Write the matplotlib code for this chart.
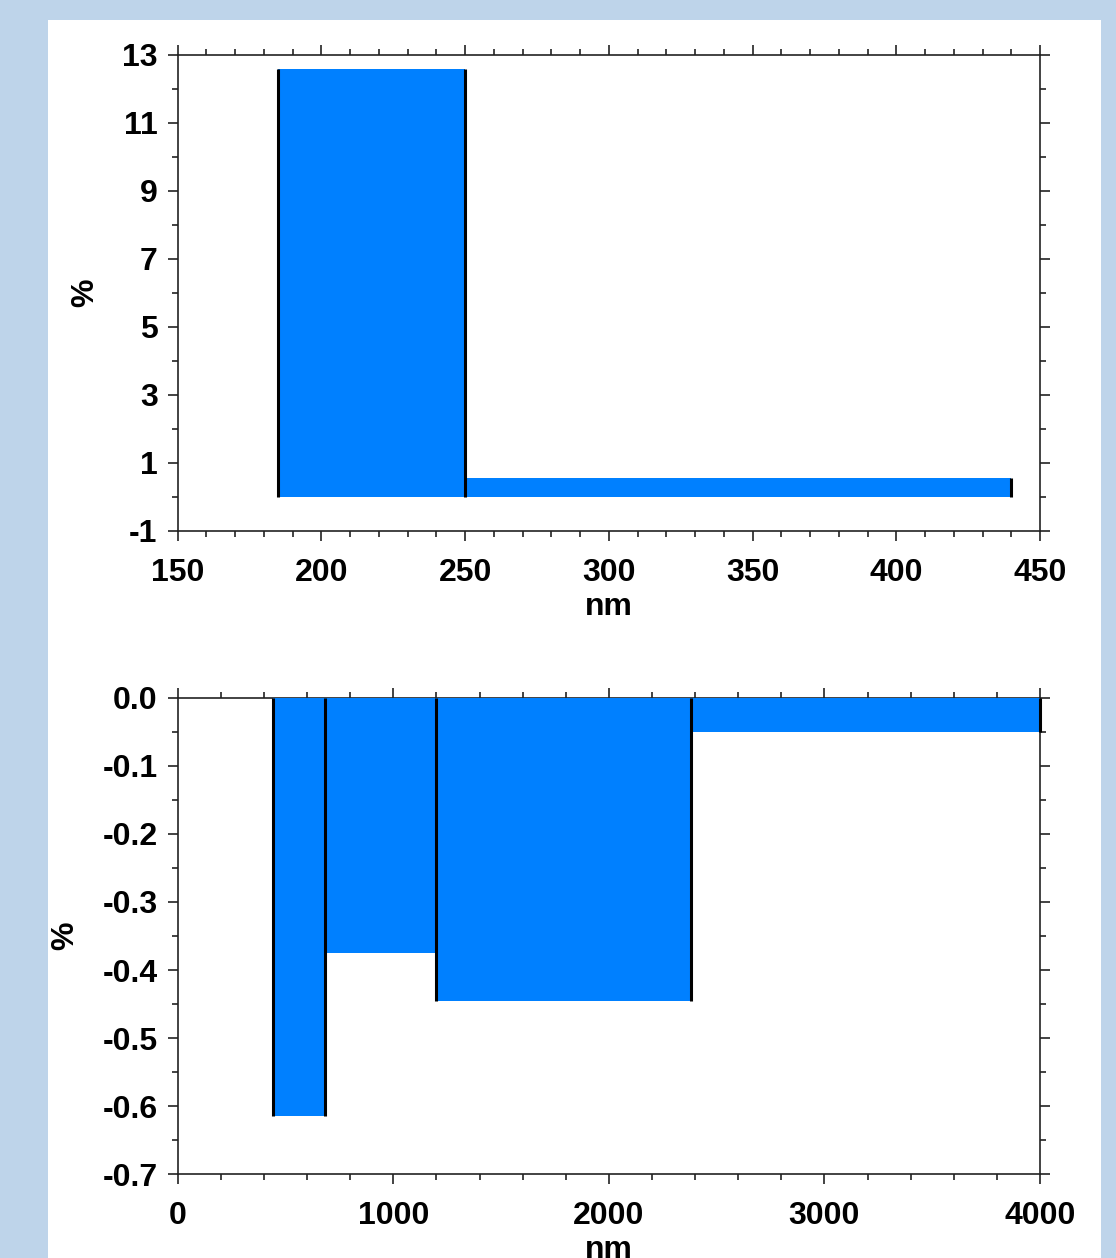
import matplotlib
matplotlib.use("Agg")
import matplotlib.pyplot as plt
from matplotlib.patches import Rectangle
from matplotlib.ticker import MultipleLocator
import numpy as np

# ---- data ----
top_edges = [185, 250, 440]          # nm, bin edges
top_values = [12.6, 0.55]            # %
bot_edges = [440, 685, 1200, 2380, 4000]
bot_values = [-0.615, -0.375, -0.445, -0.05]

top_xlim = (150, 450)
top_ylim = (-1, 13)
top_yticks = [-1, 1, 3, 5, 7, 9, 11, 13]
bot_xlim = (0, 4000)
bot_ylim = (-0.7, 0.0)
bot_yticks = [-0.7, -0.6, -0.5, -0.4, -0.3, -0.2, -0.1, 0.0]

BAR = "#0080ff"
BG = "#bed4ea"
FONT = "Liberation Sans"
FS = 23

W, H = 1116, 1258
fig = plt.figure(figsize=(W / 100, H / 100), dpi=100)
fig.patch.set_facecolor(BG)
fig.patches.append(Rectangle((48 / W, 0), (1101 - 48) / W, (H - 20) / H,
                             transform=fig.transFigure, facecolor="white",
                             edgecolor="none", zorder=-5))
fig.text(166 / W, 1 + 14 / H, "g", fontsize=44, fontfamily=FONT,
         ha="center", va="baseline", color="black", zorder=-4)


def draw(ax, edges, values, xlim, ylim, yticks, xmaj, xmin, ymin_loc, yfmt):
    edges = np.asarray(edges, float)
    values = np.asarray(values, float)
    widths = np.diff(edges)
    ax.bar(edges[:-1], values, width=widths, align="edge", color=BAR,
           linewidth=0, zorder=3)
    # vertical black edge lines at each bin boundary
    padded = np.concatenate([[0.0], values, [0.0]])
    ext = []
    for i in range(len(edges)):
        a, b = padded[i], padded[i + 1]
        ext.append(a if abs(a) >= abs(b) else b)
    ax.vlines(edges, 0, ext, colors="black", linewidth=2.2, zorder=4,
              clip_on=False)
    ax.set_xlim(*xlim)
    ax.set_ylim(*ylim)
    ax.set_yticks(yticks)
    ax.set_yticklabels([yfmt(v) for v in yticks])
    ax.xaxis.set_major_locator(MultipleLocator(xmaj))
    ax.xaxis.set_minor_locator(MultipleLocator(xmin))
    ax.yaxis.set_minor_locator(MultipleLocator(ymin_loc))
    ax.tick_params(which="both", direction="out", top=True, right=True,
                   labeltop=False, labelright=False, color="#222222",
                   width=1.2)
    ax.tick_params(which="major", length=7.5, labelsize=FS)
    ax.tick_params(which="minor", length=4.5)
    ax.tick_params(axis="x", which="major", pad=12)
    ax.tick_params(axis="y", which="major", pad=7)
    for s in ax.spines.values():
        s.set_linewidth(1.2)
        s.set_color("#222222")
        s.set_zorder(2)
    for lab in ax.get_xticklabels() + ax.get_yticklabels():
        lab.set_fontfamily(FONT)
        lab.set_fontweight("bold")
    ax.set_xlabel("nm", fontsize=FS, fontweight="bold", fontfamily=FONT,
                  labelpad=3)
    ax.set_ylabel("%", fontsize=FS, fontweight="bold", fontfamily=FONT,
                  labelpad=16)
    ax.set_facecolor("white")


ax1 = fig.add_axes([177.7 / W, 1 - 531 / H, (1040 - 177.7) / W, (531 - 55) / H])
draw(ax1, top_edges, top_values, top_xlim, top_ylim, top_yticks, 50, 10, 1,
     lambda v: f"{v:d}")

ax2 = fig.add_axes([177.7 / W, 1 - 1174 / H, (1040 - 177.7) / W, (1174 - 698) / H])
draw(ax2, bot_edges, bot_values, bot_xlim, bot_ylim, bot_yticks, 1000, 200, 0.05,
     lambda v: f"{v:.1f}")

fig.savefig("out.png", dpi=100, facecolor=fig.get_facecolor())
